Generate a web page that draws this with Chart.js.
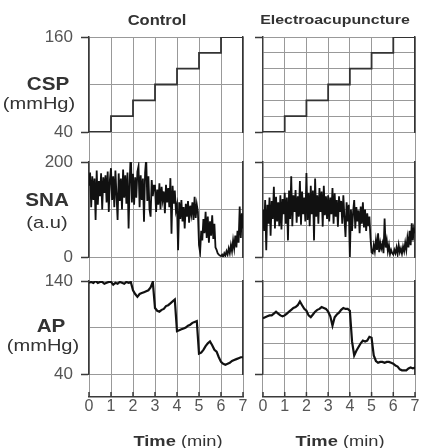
<!DOCTYPE html>
<html>
<head>
<meta charset="utf-8">
<script src="https://cdn.jsdelivr.net/npm/chart.js@4.4.1/dist/chart.umd.min.js"></script>
<style>
  body { margin: 0; background: #fff; }
  #wrap { position: relative; width: 423px; height: 448px; overflow: hidden; font-family: "Liberation Sans", Arial, sans-serif; color: #333; }
  canvas { position: absolute; top: 0; }
  .lbl { position: absolute; white-space: nowrap; line-height: 1; transform: translate(-50%, -50%) scaleX(1.18); }
  .b { font-weight: bold; }
</style>
</head>
<body>
<div id="wrap">
  <canvas id="control-chart" width="250" height="448" style="left:0"></canvas>
  <canvas id="electro-chart" width="173" height="448" style="left:250px"></canvas>

  <div class="lbl b" style="left:157px;top:20px;font-size:14px">Control</div>
  <div class="lbl b" style="left:335px;top:20px;font-size:13.5px">Electroacupuncture</div>
  <div class="lbl b" style="left:48px;top:85px;font-size:17.5px">CSP</div>
  <div class="lbl" style="left:39px;top:103px;font-size:17px">(mmHg)</div>
  <div class="lbl b" style="left:47px;top:201px;font-size:17.5px">SNA</div>
  <div class="lbl" style="left:47px;top:222px;font-size:17px">(a.u)</div>
  <div class="lbl b" style="left:51px;top:327px;font-size:17.5px">AP</div>
  <div class="lbl" style="left:43px;top:345px;font-size:17px">(mmHg)</div>
  <div class="lbl" style="left:178px;top:441px;font-size:15.5px"><b>Time</b> (min)</div>
  <div class="lbl" style="left:340px;top:441px;font-size:15.5px"><b>Time</b> (min)</div>
</div>

<script>
// carotid sinus pressure steps (mmHg), one level per minute
const cspMinutes = [0, 1, 2, 3, 4, 5, 6, 7];
const cspControl = [40, 60, 80, 100, 120, 140, 160, 160];
const cspElectro = [40, 60, 80, 100, 120, 140, 160, 160];
const cspReset = 40;

// sympathetic nerve activity (a.u), one sample every 0.05 min
const snaStep = 0.05;
const snaControl = [
  150, 178, 105, 170, 120, 165, 78, 182, 110, 160, 128, 176, 100, 168, 135, 172, 115, 180, 95, 163,
  187, 120, 170, 105, 182, 130, 78, 176, 118, 165, 100, 184, 125, 172, 112, 178, 60, 160, 222, 115,
  175, 110, 168, 125, 180, 191, 105, 172, 120, 165, 74, 178, 208, 118, 170, 100, 85, 162, 128, 150,
  150, 95, 142, 110, 155, 100, 148, 120, 138, 92, 152, 115, 145, 105, 166, 49, 150, 112, 140, 98,
  110, 14, 115, 80, 120, 75, 105, 60, 112, 85, 118, 72, 108, 90, 115, 78, 127, 82, 110, 95,
  25, 10, 55, 35, 80, 50, 95, 40, 85, 30, 75, 45, 88, 38, 70, 20, 15, 8, 5, 3,
  2, 5, 0, 8, 3, 12, 5, 18, 8, 25, 12, 35, 18, 45, 20, 55, 30, 106, 40, 92, 60
];
const snaElectro = [
  100, 55, 120, 14, 110, 70, 125, 45, 118, 80, 148, 60, 127, 75, 115, 65, 130, 58, 122, 90,
  135, 70, 125, 35, 140, 80, 170, 65, 130, 95, 141, 72, 128, 85, 160, 68, 138, 90, 125, 75,
  177, 78, 135, 65, 150, 90, 140, 35, 165, 85, 130, 70, 145, 95, 138, 64, 150, 88, 128, 80,
  130, 75, 125, 90, 145, 70, 134, 85, 120, 64, 128, 95, 118, 70, 130, 82, 42, 115, 75, 110,
  0, 100, 55, 95, 120, 60, 105, 75, 98, 50, 106, 70, 115, 62, 100, 55, 92, 65, 85, 40,
  10, 8, 25, 12, 35, 15, 50, 10, 30, 18, 28, 8, 81, 20, 35, 12, 25, 6, 15, 8,
  5, 15, 8, 20, 6, 25, 10, 18, 7, 22, 12, 30, 15, 40, 20, 55, 25, 71, 35, 60, 50
];

// arterial pressure (mmHg), one sample every 0.1 min
const apStep = 0.1;
const apControl = [
  138, 139, 138, 140, 138, 139, 139, 137, 138, 139,
  139, 136, 138, 137, 139, 138, 137, 139, 138, 139,
  130, 126, 123, 126, 127, 128, 129, 130, 133, 139,
  111, 108, 107, 109, 110, 113, 114, 116, 118, 120,
  86, 87, 88, 89, 90, 92, 93, 95, 96, 97,
  62, 63, 66, 70, 73, 75, 71, 66, 64, 58,
  53, 51, 50, 51, 52, 54, 55, 56, 57, 58,
  58
];
const apElectro = [
  100, 101, 102, 103, 103, 105, 107, 105, 103, 102,
  103, 105, 107, 109, 111, 112, 114, 118, 114, 110,
  108, 103, 101, 104, 107, 109, 110, 112, 111, 110,
  107, 102, 92, 101, 104, 106, 109, 111, 110, 110,
  108, 75, 60, 65, 69, 73, 76, 75, 76, 80,
  79, 60, 54, 52, 53, 53, 52, 53, 53, 52,
  51, 49, 48, 45, 44, 44, 44, 46, 47, 46,
  47
];

const FONT = "'Liberation Sans', Arial, sans-serif";
const GRID = '#999';
const AXIS = '#3a3a3a';
const TRACE = '#111';
const TICK_TEXT = '#555';

// panel heights in px (stack weights), top to bottom incl. gaps
const H = { csp: 95, gap1: 30, sna: 95, gap2: 24, ap: 93, gap3: 23 };

function sampled(values, step) {
  return values.map((v, i) => ({ x: i * step, y: v }));
}

function cspPoints(levels) {
  const pts = cspMinutes.map((m, i) => ({ x: m, y: levels[i] }));
  pts.push({ x: cspMinutes[cspMinutes.length - 1], y: cspReset });
  return pts;
}

function panelAxis(min, max, h, weight, showLabels, width) {
  return {
    type: 'linear', position: 'left', stack: 'L', stackWeight: h, weight: weight,
    min: min, max: max,
    ticks: {
      count: 7, display: showLabels, color: TICK_TEXT, padding: 8,
      font: { family: FONT, size: 17 },
      callback: (v, i, t) => (i === 0 || i === t.length - 1) ? v : ''
    },
    grid: {
      color: GRID, lineWidth: 1, tickLength: 8, tickWidth: 1.5,
      tickColor: c => (c.index === 0 || c.index === 6) ? AXIS : 'rgba(0,0,0,0)'
    },
    border: { color: AXIS, width: 1.5 },
    afterFit: s => { s.width = width; }
  };
}

function gapAxis(pos, stack, h, weight, width) {
  return {
    type: 'linear', position: pos, stack: stack, stackWeight: h, weight: weight,
    min: 0, max: 1,
    ticks: { display: false }, grid: { display: false }, border: { display: false },
    afterFit: s => { s.width = width; }
  };
}

function edgeAxis(h, weight) {
  return {
    type: 'linear', position: 'right', stack: 'R', stackWeight: h, weight: weight,
    min: 0, max: 1,
    ticks: { display: false }, grid: { display: false },
    border: { display: true, color: AXIS, width: 1.5 },
    afterFit: s => { s.width = 0; }
  };
}

// short tick marks pointing up from the time axis
const upTicks = {
  id: 'upTicks',
  afterDraw(chart) {
    const x = chart.scales.x;
    const ctx = chart.ctx;
    ctx.save();
    ctx.strokeStyle = AXIS;
    ctx.lineWidth = 1.5;
    x.ticks.forEach((t, i) => {
      const px = x.getPixelForTick(i);
      ctx.beginPath();
      ctx.moveTo(px, x.top);
      ctx.lineTo(px, x.top - 5);
      ctx.stroke();
    });
    ctx.restore();
  }
};

function makeChart(id, csp, sna, ap, showLabels, leftWidth, padRight) {
  const line = { borderColor: TRACE, pointRadius: 0, tension: 0, xAxisID: 'x' };
  new Chart(document.getElementById(id), {
    type: 'line',
    data: {
      datasets: [
        { ...line, data: cspPoints(csp), yAxisID: 'yCSP', borderWidth: 1.8, stepped: true, borderColor: '#333' },
        { ...line, data: sampled(sna, snaStep), yAxisID: 'ySNA', borderWidth: 1.8 },
        { ...line, data: sampled(ap, apStep), yAxisID: 'yAP', borderWidth: 2.2 }
      ]
    },
    options: {
      responsive: false,
      animation: false,
      events: [],
      layout: { padding: { top: 37, right: padRight, bottom: 0, left: 0 } },
      plugins: { legend: { display: false }, tooltip: { enabled: false } },
      scales: {
        x: {
          type: 'linear', position: 'bottom', min: 0, max: 7,
          ticks: { stepSize: 1, color: TICK_TEXT, padding: 0, maxRotation: 0, autoSkip: false, font: { family: FONT, size: 16 } },
          grid: { color: GRID, lineWidth: 1, drawTicks: false },
          border: { color: AXIS, width: 1.5 },
          afterFit: s => { s.height = 51; }
        },
        yCSP: panelAxis(40, 160, H.csp, 6, showLabels, leftWidth),
        g1: gapAxis('left', 'L', H.gap1, 5, leftWidth),
        ySNA: panelAxis(0, 200, H.sna, 4, showLabels, leftWidth),
        g2: gapAxis('left', 'L', H.gap2, 3, leftWidth),
        yAP: panelAxis(40, 140, H.ap, 2, showLabels, leftWidth),
        g3: gapAxis('left', 'L', H.gap3, 1, leftWidth),
        rCSP: edgeAxis(H.csp, 1),
        r1: gapAxis('right', 'R', H.gap1, 2, 0),
        rSNA: edgeAxis(H.sna, 3),
        r2: gapAxis('right', 'R', H.gap2, 4, 0),
        rAP: edgeAxis(H.ap, 5),
        r3: gapAxis('right', 'R', H.gap3, 6, 0)
      }
    },
    plugins: [upTicks]
  });
}

makeChart('control-chart', cspControl, snaControl, apControl, true, 89, 7);
makeChart('electro-chart', cspElectro, snaElectro, apElectro, false, 13, 8);
</script>
</body>
</html>
